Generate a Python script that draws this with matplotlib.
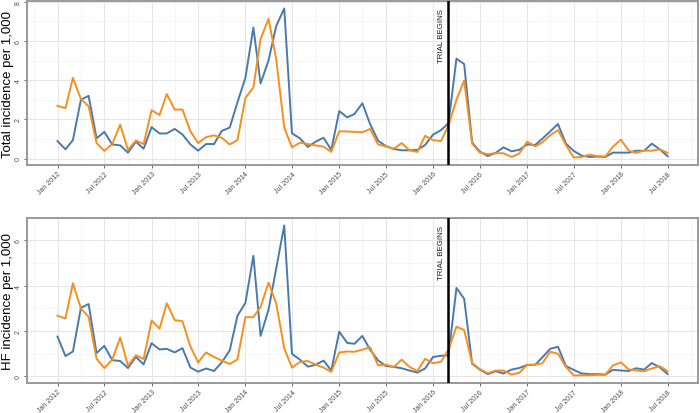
import matplotlib
matplotlib.use("Agg")
import matplotlib.pyplot as plt
import matplotlib.dates as mdates
import pandas as pd
import numpy as np

plt.rcParams['font.family'] = ['Liberation Sans', 'DejaVu Sans']

months = pd.date_range('2012-01-01', '2018-07-01', freq='MS')
trial_start = pd.Timestamp('2016-03-01')
trial_label = "TRIAL BEGINS"

total_blue = [0.89, 0.47, 0.94, 3.00, 3.20, 1.03, 1.36, 0.72, 0.67, 0.30,
              0.86, 0.50, 1.60, 1.28, 1.28, 1.51, 1.23, 0.72, 0.40, 0.74,
              0.74, 1.41, 1.58, 2.87, 4.12, 6.69, 3.83, 5.01, 6.77, 7.66,
              1.29, 1.03, 0.59, 0.86, 1.06, 0.44, 2.42, 2.10, 2.27, 2.82,
              1.76, 0.91, 0.64, 0.49, 0.42, 0.42, 0.44, 0.69, 1.22, 1.45,
              1.80, 5.10, 4.82, 0.82, 0.35, 0.13, 0.29, 0.57, 0.37, 0.44,
              0.72, 0.69, 1.01, 1.39, 1.76, 0.76, 0.39, 0.15, 0.08, 0.10,
              0.08, 0.30, 0.30, 0.30, 0.40, 0.39, 0.76, 0.47, 0.12]
total_orange = [2.69, 2.57, 4.12, 3.04, 2.66, 0.79, 0.39, 0.74, 1.73, 0.44,
                0.92, 0.74, 2.47, 2.22, 3.29, 2.50, 2.50, 1.39, 0.79, 1.09,
                1.18, 1.06, 0.72, 0.94, 3.09, 3.63, 6.10, 7.13, 5.06, 1.58,
                0.57, 0.81, 0.74, 0.67, 0.61, 0.34, 1.39, 1.38, 1.36, 1.34,
                1.51, 0.72, 0.62, 0.50, 0.79, 0.42, 0.34, 1.16, 0.94, 0.89,
                1.70, 3.00, 3.98, 0.76, 0.30, 0.22, 0.27, 0.27, 0.08, 0.25,
                0.86, 0.62, 0.82, 1.19, 1.45, 0.69, 0.05, 0.08, 0.20, 0.12,
                0.10, 0.61, 0.96, 0.39, 0.29, 0.40, 0.40, 0.47, 0.29]
hf_blue = [1.75, 0.89, 1.09, 3.02, 3.19, 1.02, 1.34, 0.71, 0.67, 0.36,
           0.85, 0.52, 1.46, 1.18, 1.21, 1.05, 1.24, 0.38, 0.20, 0.34,
           0.23, 0.61, 1.14, 2.67, 3.24, 5.32, 1.78, 2.94, 4.77, 6.66,
           0.99, 0.73, 0.42, 0.50, 0.69, 0.25, 1.97, 1.47, 1.43, 1.78,
           1.17, 0.70, 0.45, 0.41, 0.35, 0.25, 0.16, 0.34, 0.85, 0.90,
           0.92, 3.90, 3.42, 0.55, 0.29, 0.09, 0.22, 0.12, 0.29, 0.36,
           0.50, 0.50, 0.83, 1.21, 1.30, 0.45, 0.28, 0.12, 0.09, 0.09,
           0.07, 0.28, 0.25, 0.23, 0.35, 0.29, 0.58, 0.39, 0.10]
hf_orange = [2.67, 2.55, 4.11, 2.99, 2.62, 0.77, 0.36, 0.73, 1.71, 0.47,
             0.92, 0.76, 2.46, 2.10, 3.22, 2.48, 2.43, 1.31, 0.61, 1.05,
             0.85, 0.69, 0.54, 0.74, 2.61, 2.61, 3.06, 4.13, 3.21, 1.24,
             0.38, 0.63, 0.67, 0.51, 0.38, 0.19, 1.05, 1.09, 1.08, 1.17,
             1.28, 0.48, 0.51, 0.41, 0.73, 0.41, 0.23, 0.77, 0.57, 0.64,
             1.17, 2.19, 2.04, 0.58, 0.31, 0.13, 0.25, 0.25, 0.07, 0.15,
             0.50, 0.51, 0.57, 1.08, 0.99, 0.41, 0.03, 0.04, 0.04, 0.06,
             0.06, 0.48, 0.61, 0.29, 0.26, 0.22, 0.34, 0.44, 0.22]

panels = [
    ("Total incidence per 1,000", total_blue, total_orange, [0, 2, 4, 6, 8]),
    ("HF incidence per 1,000", hf_blue, hf_orange, [0, 2, 4, 6]),
]

BLUE = '#4a79ae'
ORANGE = '#f5901f'

fig = plt.figure(figsize=(7.0, 4.14), dpi=100)
positions = [
    [27/700, (414-166)/414, 671/700, 164/414],
    [27/700, (414-384)/414, 671/700, 165/414],
]

x0, x1 = months[0], months[-1]
span = x1 - x0
xlim = (x0 - span * 0.05, x1 + span * 0.05)
major_ticks = pd.date_range('2012-01-01', '2018-07-01', freq='6MS')
minor_ticks = pd.date_range('2011-10-01', '2018-10-01', freq='6MS')

for (ylabel, blue, orange, yticks), pos in zip(panels, positions):
    ax = fig.add_axes(pos)
    ax.plot(months, blue, color=BLUE, lw=1.4, zorder=3)
    ax.plot(months, orange, color=ORANGE, lw=1.4, zorder=3)
    lo = min(min(blue), min(orange))
    hi = max(max(blue), max(orange))
    pad = (hi - lo) * 0.05
    ax.set_ylim(lo - pad, hi + pad)
    ax.set_xlim(xlim)

    ax.axvline(trial_start, color='black', lw=1.8, zorder=4)
    ax.annotate(trial_label, xy=(trial_start, hi), xytext=(-2.5, 0),
                textcoords='offset points', rotation=90, ha='right', va='top',
                fontsize=5.7, color='#1a1a1a')

    ax.set_xticks(major_ticks)
    ax.set_xticks(minor_ticks, minor=True)
    ax.xaxis.set_major_formatter(mdates.DateFormatter('%b %Y'))
    ax.set_yticks(yticks)
    ax.set_yticks([v + 1 for v in yticks if v + 1 < hi + pad], minor=True)
    ax.grid(which='major', color='#e6e6e6', lw=0.8, zorder=0)
    ax.grid(which='minor', color='#f2f2f2', lw=0.5, zorder=0)
    ax.set_axisbelow(True)

    ax.tick_params(axis='both', which='major', length=2.5, width=0.6,
                   color='#4d4d4d', labelcolor='#4d4d4d', labelsize=5.0, pad=1.2)
    ax.tick_params(axis='both', which='minor', length=0)
    for lab in ax.get_xticklabels():
        lab.set_rotation(45)
        lab.set_ha('right')
        lab.set_va('top')
        lab.set_rotation_mode('anchor')
    for lab in ax.get_yticklabels():
        lab.set_rotation(90)
        lab.set_va('center')
    for s in ax.spines.values():
        s.set_color('#999999')
        s.set_linewidth(1.4)

    cy = pos[1] + pos[3] / 2
    fig.text(0.003, cy, ylabel, rotation=90, ha='left', va='center',
             fontsize=9.5, color='black')

fig.savefig('out.png', dpi=100)
